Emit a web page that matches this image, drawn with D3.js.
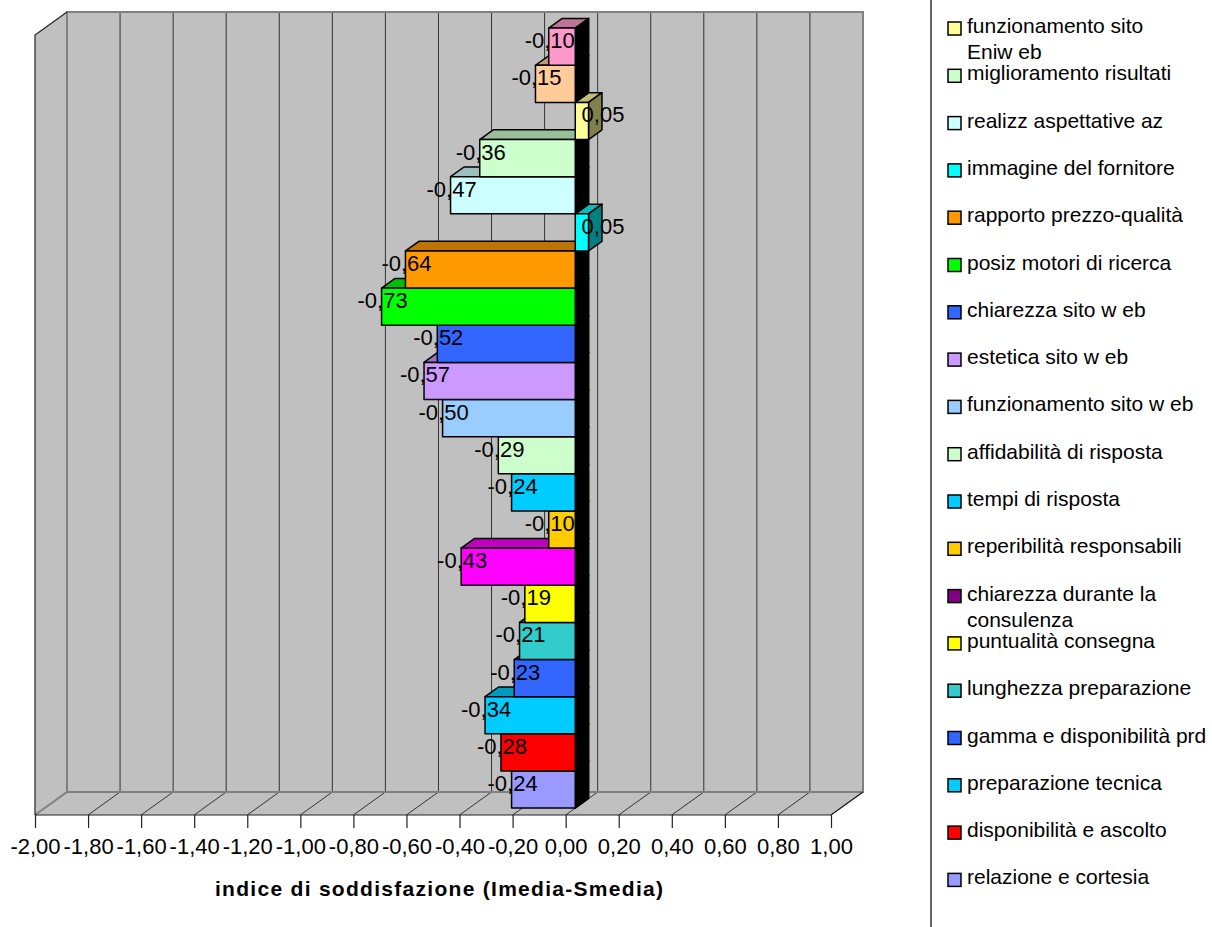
<!DOCTYPE html>
<html>
<head>
<meta charset="utf-8">
<script src="https://cdn.jsdelivr.net/npm/d3@7"></script>
<style>
  body { margin: 0; background: #fff; }
  text { font-family: Arial, "Liberation Sans", sans-serif; }
</style>
</head>
<body>
<svg id="chart" width="1212" height="927"></svg>
<script>
// Satisfaction index (Imedia - Smedia) per item, listed from the top bar down
const values = [-0.10, -0.15, 0.05, -0.36, -0.47, 0.05, -0.64, -0.73, -0.52, -0.57,
                -0.50, -0.29, -0.24, -0.10, -0.43, -0.19, -0.21, -0.23, -0.34, -0.28, -0.24];

const barColors = ["#FF99CC", "#FFCC99", "#FFFF99", "#CCFFCC", "#CCFFFF", "#00FFFF", "#FF9900",
                   "#00FF00", "#3366FF", "#CC99FF", "#99CCFF", "#CCFFCC", "#00CCFF", "#FFCC00",
                   "#FF00FF", "#FFFF00", "#33CCCC", "#3366FF", "#00CCFF", "#FF0000", "#9999FF"];

// Legend entries (the box starts at the third series)
const legendLabels = ["funzionamento sito\nEniw eb", "miglioramento risultati", "realizz aspettative az",
                      "immagine del fornitore", "rapporto prezzo-qualità", "posiz motori di ricerca",
                      "chiarezza sito w eb", "estetica sito w eb", "funzionamento sito w eb",
                      "affidabilità di risposta", "tempi di risposta", "reperibilità responsabili",
                      "chiarezza durante la\nconsulenza", "puntualità consegna", "lunghezza preparazione",
                      "gamma e disponibilità prd", "preparazione tecnica", "disponibilità e ascolto",
                      "relazione e cortesia"];
const legendColors = ["#FFFF99", "#CCFFCC", "#CCFFFF", "#00FFFF", "#FF9900", "#00FF00", "#3366FF",
                      "#CC99FF", "#99CCFF", "#CCFFCC", "#00CCFF", "#FFCC00", "#800080", "#FFFF00",
                      "#33CCCC", "#3366FF", "#00CCFF", "#FF0000", "#9999FF"];

const xDomain = [-2, 1];
const axisTitle = "indice di soddisfazione (Imedia-Smedia)";

// ---- layout ----
const svg = d3.select("#chart");
const X0 = 35, X1 = 831, YTOP = 35, YBOT = 815;   // front plane of the plot box
const DX = 32, DY = 23;                           // oblique depth offset
const Z0 = 0.30, Z1 = 0.72;                       // bar depth span (fraction of box depth)

const itLocale = d3.formatLocale({ decimal: ",", thousands: ".", grouping: [3], currency: ["", "€"], minus: "-" });
const fmt = itLocale.format(".2f");

const x = d3.scaleLinear().domain(xDomain).range([X0, X1]);
const y = d3.scaleBand().domain(d3.range(values.length)).range([YTOP, YBOT]).paddingInner(0).paddingOuter(0);
const ticks = x.ticks(15);

const wallFill = "#C0C0C0", edgeGray = "#808080", gridColor = "#333333";

// side wall
svg.append("polygon")
  .attr("points", [[X0, YTOP], [X0 + DX, YTOP - DY], [X0 + DX, YBOT - DY], [X0, YBOT]].join(" "))
  .attr("fill", wallFill);
// back wall
svg.append("rect")
  .attr("x", X0 + DX).attr("y", YTOP - DY)
  .attr("width", X1 - X0).attr("height", YBOT - YTOP)
  .attr("fill", wallFill);
// floor
svg.append("polygon")
  .attr("points", [[X0, YBOT], [X1, YBOT], [X1 + DX, YBOT - DY], [X0 + DX, YBOT - DY]].join(" "))
  .attr("fill", wallFill);

// gridlines on the back wall and across the floor
svg.append("g").selectAll("line").data(ticks.slice(1, -1)).join("line")
  .attr("x1", d => x(d) + DX).attr("x2", d => x(d) + DX)
  .attr("y1", YTOP - DY).attr("y2", YBOT - DY)
  .attr("stroke", gridColor).attr("stroke-width", 1);
svg.append("g").selectAll("line").data(ticks.slice(1)).join("line")
  .attr("x1", d => x(d)).attr("y1", YBOT)
  .attr("x2", d => x(d) + DX).attr("y2", YBOT - DY)
  .attr("stroke", gridColor).attr("stroke-width", 1);

// box edges
const edges = svg.append("g").attr("fill", "none");
edges.append("path")
  .attr("d", `M${X0},${YBOT}L${X0 + DX},${YBOT - DY}L${X1 + DX},${YBOT - DY}L${X1 + DX},${YTOP - DY}L${X0 + DX},${YTOP - DY}L${X0 + DX},${YBOT - DY}`)
  .attr("stroke", edgeGray).attr("stroke-width", 2);
edges.append("path")
  .attr("d", `M${X0},${YBOT}L${X0},${YTOP}L${X0 + DX},${YTOP - DY}`)
  .attr("stroke", "#222").attr("stroke-width", 1.2);
edges.append("path")
  .attr("d", `M${X0},${YBOT}L${X1},${YBOT}L${X1 + DX},${YBOT - DY}`)
  .attr("stroke", "#222").attr("stroke-width", 1.2);

// ---- 3D bars, drawn bottom-up so upper bars hide the top faces below ----
function shade(c, k) {
  const r = d3.rgb(c);
  return d3.rgb(r.r * k, r.g * k, r.b * k).formatHex();
}
const ox0 = Z0 * DX, oy0 = -Z0 * DY, ox1 = Z1 * DX, oy1 = -Z1 * DY;
const bars = values.map((v, i) => ({ v, i, color: barColors[i] })).reverse();

const barG = svg.append("g").attr("stroke", "#000").attr("stroke-width", 1.5).attr("stroke-linejoin", "round");
bars.forEach(d => {
  const xa = x(Math.min(d.v, 0)), xb = x(Math.max(d.v, 0));
  const yt = y(d.i), yb = yt + y.bandwidth();
  const g = barG.append("g");
  // top face
  g.append("polygon")
    .attr("points", [[xa + ox0, yt + oy0], [xb + ox0, yt + oy0], [xb + ox1, yt + oy1], [xa + ox1, yt + oy1]].join(" "))
    .attr("fill", shade(d.color, 0.75));
  // end face
  g.append("polygon")
    .attr("points", [[xb + ox0, yt + oy0], [xb + ox1, yt + oy1], [xb + ox1, yb + oy1], [xb + ox0, yb + oy0]].join(" "))
    .attr("fill", d.v < 0 ? "#000" : shade(d.color, 0.5));
  // front face
  g.append("rect")
    .attr("x", xa + ox0).attr("y", yt + oy0)
    .attr("width", xb - xa).attr("height", yb - yt)
    .attr("fill", d.color);
});

// data labels
svg.append("g").selectAll("text").data(values.map((v, i) => ({ v, i }))).join("text")
  .attr("x", d => d.v < 0 ? x(d.v) + ox0 + 1 : x(d.v) + ox1 + 1)
  .attr("y", d => y(d.i) + y.bandwidth() / 2 + oy0 + 1.5)
  .attr("text-anchor", "middle")
  .attr("font-size", 22)
  .attr("fill", "#000")
  .text(d => fmt(d.v));

// ---- value axis ----
const axis = d3.axisBottom(x).tickValues(ticks).tickSize(13).tickPadding(10).tickFormat(fmt);
const axG = svg.append("g").attr("transform", `translate(0,${YBOT})`).call(axis);
axG.select(".domain").remove();
axG.selectAll(".tick line").attr("stroke", "#222").attr("stroke-width", 1.2);
axG.selectAll(".tick text").attr("font-size", 22).attr("font-family", "Arial, 'Liberation Sans', sans-serif").attr("fill", "#000");

svg.append("text")
  .attr("x", 439).attr("y", 896)
  .attr("text-anchor", "middle")
  .attr("font-size", 21).attr("font-weight", "bold")
  .attr("textLength", 448).attr("lengthAdjust", "spacing")
  .text(axisTitle);

// ---- legend ----
const LX = 931, LSTEP = 47.3, LBASE = 33;
svg.append("line").attr("x1", LX).attr("x2", LX).attr("y1", 0).attr("y2", 927)
  .attr("stroke", "#333").attr("stroke-width", 1.5);
const leg = svg.append("g").selectAll("g").data(legendLabels.map((t, i) => ({ t, i }))).join("g")
  .attr("transform", d => `translate(0,${LBASE + d.i * LSTEP})`);
leg.append("rect")
  .attr("x", 948).attr("y", -11).attr("width", 13).attr("height", 13)
  .attr("fill", d => legendColors[d.i]).attr("stroke", "#000").attr("stroke-width", 1.5);
leg.append("text")
  .attr("x", 967).attr("y", 0)
  .attr("font-size", 21).attr("fill", "#000")
  .selectAll("tspan").data(d => d.t.split("\n")).join("tspan")
  .attr("x", 967).attr("dy", (s, k) => k === 0 ? 0 : 26)
  .text(s => s);
</script>
</body>
</html>
